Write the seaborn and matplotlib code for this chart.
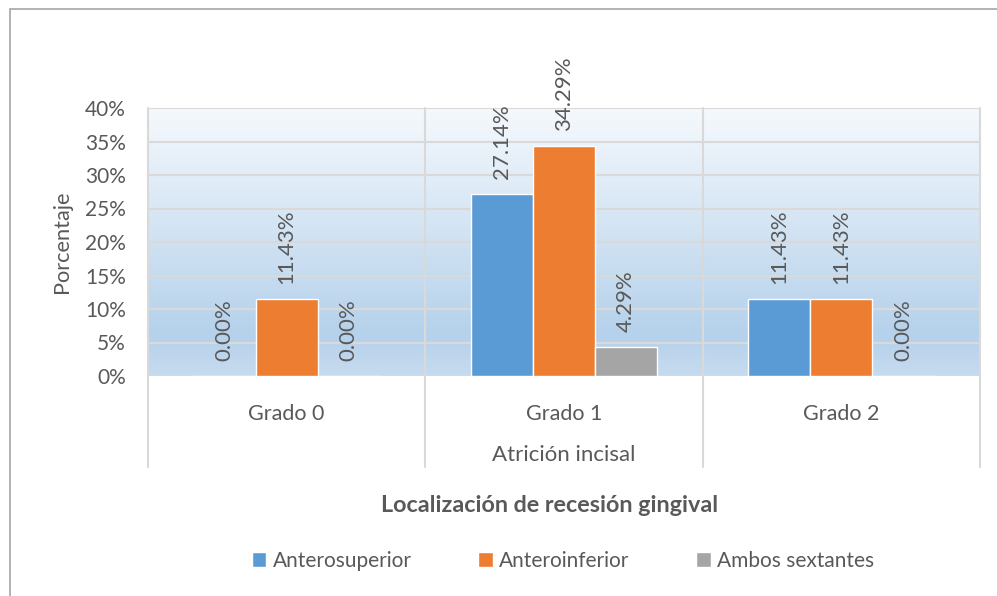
import numpy as np
import pandas as pd
import matplotlib
matplotlib.use("Agg")
import matplotlib.pyplot as plt
from matplotlib.patches import Rectangle
from matplotlib.colors import LinearSegmentedColormap
import seaborn as sns

categories = ["Grado 0", "Grado 1", "Grado 2"]
series = ["Anterosuperior", "Anteroinferior", "Ambos sextantes"]
anterosuperior = [0.00, 27.14, 11.43]
anteroinferior = [11.43, 34.29, 11.43]
ambos = [0.00, 4.29, 0.00]
yticks = [0, 5, 10, 15, 20, 25, 30, 35, 40]
colors = ["#5B9BD5", "#ED7D31", "#A5A5A5"]
text_color = "#595959"

rows = []
for name, vals in zip(series, [anterosuperior, anteroinferior, ambos]):
    for c, v in zip(categories, vals):
        rows.append({"Grado": c, "Serie": name, "Valor": v})
df = pd.DataFrame(rows)

sns.set_theme(style="white")
plt.rcParams["font.family"] = ["Lato", "DejaVu Sans"]

fig = plt.figure(figsize=(9.97, 5.96), dpi=100)
ax = fig.add_axes([148/997, 1-376/596, (980-148)/997, (376-108)/596])

# gradient background
cmap = LinearSegmentedColormap.from_list(
    "bg", [(0.0, "#C7DBEF"), (0.15, "#B5D1EB"), (1.0, "#F5F9FD")])
grad = np.linspace(0, 1, 256).reshape(-1, 1)
ax.imshow(grad, cmap=cmap, aspect="auto", origin="lower",
          extent=[0, 1, 0, 1], transform=ax.transAxes, zorder=0)

sns.barplot(data=df, x="Grado", y="Valor", hue="Serie", palette=colors,
            width=0.672, saturation=1, ax=ax, zorder=3, legend=True)

ax.set_xlim(-0.5, 2.5)
ax.set_ylim(0, 40)
ax.set_yticks(yticks)
ax.set_yticklabels([f"{t}%" for t in yticks], fontsize=15, color=text_color)
ax.tick_params(axis="x", labelsize=15.5, colors=text_color, length=0, pad=20)
ax.tick_params(axis="y", length=0, pad=16)
for t in ax.get_xticklabels():
    t.set_color(text_color)

for t in yticks:
    ax.axhline(t, color="#D9D9D9", lw=1.5, zorder=1)
for xb in [-0.5, 0.5, 1.5, 2.5]:
    ax.plot([xb, xb], [-0.34, 1.0], transform=ax.get_xaxis_transform(),
            color="#D9D9D9", lw=1.5, clip_on=False, zorder=1)

for s in ax.spines.values():
    s.set_visible(False)

for cont in ax.containers:
    ax.bar_label(cont, labels=[f"{v:.2f}%" for v in cont.datavalues],
                 rotation=90, padding=11, fontsize=16, color=text_color)

ax.set_xlabel("Atrición incisal", fontsize=16, color=text_color, labelpad=15)
ax.set_ylabel("Porcentaje", fontsize=15.7, color=text_color, labelpad=9)

fig.text(550/997, 1-505/596, "Localización de recesión gingival",
         ha="center", va="center", fontsize=16.8, fontweight="bold", color=text_color)

handles, labels = ax.get_legend_handles_labels()
ax.get_legend().remove()
fig.legend(handles, labels, loc="center", bbox_to_anchor=(563/997, 1-561/596),
           ncol=3, frameon=False, fontsize=15, handlelength=0.7, handleheight=0.7,
           handletextpad=0.3, columnspacing=3.2, labelcolor=text_color)

# outer frame
fig.add_artist(Rectangle((10/997, -0.05), 1.1, 1-9/596+0.05, transform=fig.transFigure,
                         fill=False, edgecolor="#A6A6A6", lw=1.2))

fig.savefig("out.png", dpi=100)
